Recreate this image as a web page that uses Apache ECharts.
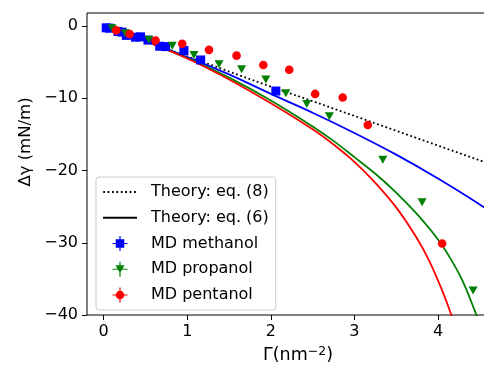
<!DOCTYPE html>
<html>
<head>
<meta charset="utf-8">
<script src="https://cdn.jsdelivr.net/npm/echarts@6/dist/echarts.min.js"></script>
<style>
  html, body { margin: 0; padding: 0; background: #fff; }
  #chart { width: 484px; height: 366px; }
</style>
</head>
<body>
<div id="chart"></div>
<script>
// MD data, [Gamma (nm^-2), delta gamma (mN/m)]
const methanol = [
  [0.03, -0.25], [0.07, -0.3], [0.17, -0.75], [0.22, -0.85], [0.27, -1.3], [0.38, -1.55],
  [0.44, -1.5], [0.53, -1.95], [0.67, -2.8], [0.74, -2.85], [0.96, -3.4], [1.16, -4.7], [2.06, -9.0],
];
const propanol = [
  [0.1, -0.3], [0.26, -1.0], [0.54, -1.9], [0.82, -2.75], [1.08, -4.0], [1.38, -5.3], [1.65, -6.0],
  [1.94, -7.4], [2.18, -9.3], [2.43, -10.8], [2.7, -12.5], [3.34, -18.5], [3.81, -24.4], [4.42, -36.6],
];
const pentanol = [
  [0.15, -0.6], [0.31, -1.1], [0.62, -2.0], [0.94, -2.45], [1.26, -3.3], [1.59, -4.1], [1.91, -5.4],
  [2.22, -6.05], [2.53, -9.4], [2.86, -9.9], [3.16, -13.7], [4.05, -30.1],
];

// theory curves
const theoryEq8 = [
  [0, 0], [0.5, -2.1], [1, -4.2], [1.5, -6.3], [2, -8.4], [2.5, -10.4], [3, -12.45],
  [3.5, -14.5], [4, -16.55], [4.55, -18.8], [4.9, -20.2],
];
const eq6Methanol = [
  [0, 0], [0.5, -2.1], [1, -4.3], [1.5, -6.7], [2, -9.4], [2.5, -12.0], [3, -14.8],
  [3.5, -17.8], [4, -21.1], [4.5, -24.7], [4.9, -27.9],
];
const eq6Propanol = [
  [0, 0], [0.5, -2.1], [1, -4.45], [1.5, -7.15], [2, -10.3], [2.5, -13.9], [2.75, -15.9],
  [3, -18.15], [3.25, -20.45], [3.5, -23.05], [3.75, -26.05], [4, -29.55], [4.15, -32.2],
  [4.3, -35.4], [4.46, -40], [4.6, -44.6],
];
const eq6Pentanol = [
  [0, 0], [0.5, -2.1], [1, -4.5], [1.5, -7.4], [2, -10.7], [2.5, -14.3], [2.75, -16.4],
  [3, -18.8], [3.25, -21.7], [3.5, -25.1], [3.75, -29.4], [3.9, -32.6], [4.05, -36.6],
  [4.16, -40], [4.3, -45],
];

const xTicks = [0, 1, 2, 3, 4];
const yTicks = [0, -10, -20, -30, -40];

const FONT = 'DejaVu Sans';

// legend icons, all in a 34x15 box (tiny corner dots keep the box size)
const corners = 'M0 0h0.01v0.01h-0.01z M33.99 14.99h0.01v0.01h-0.01z ';
const bars = 'M9.5 6.9h15v1.2h-15z M16.4 0h1.2v15h-1.2z ';
const iconSquare = 'path://' + corners + bars + 'M12.75 3.25h8.5v8.5h-8.5z';
const iconTriangle = 'path://' + corners + bars + 'M12.5 3.5h9l-4.5 8z';
const iconCircle = 'path://' + corners + bars + 'M12.7 7.5a4.3 4.3 0 1 1 8.6 0a4.3 4.3 0 1 1 -8.6 0z';
const iconSolid = 'path://' + corners + 'M0 6.6h34v1.8h-34z';
let dots = '';
for (let x = 0.2; x < 33; x += 4.4) dots += `M${x.toFixed(2)} 6.6h1.8v1.8h-1.8z `;
const iconDotted = 'path://' + corners + dots;

const chart = echarts.init(document.getElementById('chart'));
chart.setOption({
  animation: false,
  textStyle: { fontFamily: FONT },
  grid: {
    left: 87, top: 13, height: 302, width: 422, outerBoundsMode: 'none', containLabel: false,
    show: true, borderColor: '#000', borderWidth: 1,
  },
  legend: {
    left: 96, top: 177, orient: 'vertical',
    padding: [7, 7, 7, 7],
    itemWidth: 34, itemHeight: 15, itemGap: 9.75,
    selectedMode: false,
    backgroundColor: 'rgba(255,255,255,0.8)', borderColor: '#cccccc', borderWidth: 1, borderRadius: 3,
    textStyle: { fontFamily: FONT, fontSize: 16, color: '#000', lineHeight: 15, padding: [0, 0, 0, 9] },
    data: [
      { name: 'Theory: eq. (8)', icon: iconDotted },
      { name: 'Theory: eq. (6)', icon: iconSolid },
      { name: 'MD methanol', icon: iconSquare },
      { name: 'MD propanol', icon: iconTriangle },
      { name: 'MD pentanol', icon: iconCircle },
    ],
  },
  xAxis: {
    type: 'value', min: -0.2, max: 4.85,
    name: 'Γ(nm{sup|−2})', nameLocation: 'middle', nameGap: 25,
    nameTextStyle: {
      fontFamily: FONT, fontSize: 17.5, color: '#000',
      rich: { sup: { fontFamily: FONT, fontSize: 12.5, color: '#000', padding: [0, 0, 9, 0] } },
    },
    splitLine: { show: false },
    axisLine: { show: false, onZero: false },
    axisTick: { show: true, length: 5, lineStyle: { color: '#000', width: 1 }, customValues: xTicks },
    axisLabel: { fontFamily: FONT, fontSize: 16, color: '#000', margin: 9, customValues: xTicks },
  },
  yAxis: {
    type: 'value', min: -40, max: 1.8,
    splitLine: { show: false },
    axisLine: { show: false, onZero: false },
    axisTick: { show: true, length: 5, lineStyle: { color: '#000', width: 1 }, customValues: yTicks },
    axisLabel: {
      fontFamily: FONT, fontSize: 16, color: '#000', margin: 9, customValues: yTicks,
      formatter: v => String(v).replace('-', '\u2212'),
    },
  },
  graphic: [{
    type: 'text', x: 26, y: 142, rotation: Math.PI / 2,
    style: { text: 'Δγ (mN/m)', font: '16.5px "DejaVu Sans"', fill: '#000', align: 'center', verticalAlign: 'middle' },
  }],
  series: [
    { name: 'Theory: eq. (8)', type: 'line', data: theoryEq8, symbol: 'none', color: '#000',
      lineStyle: { color: '#000', width: 1.8, type: [1.8, 2.6] }, z: 2 },
    { name: 'Theory: eq. (6)', type: 'line', data: [], symbol: 'none', color: '#000',
      lineStyle: { color: '#000', width: 1.8 } },
    { name: 'eq6 methanol', type: 'line', data: eq6Methanol, symbol: 'none', smooth: 0.3,
      lineStyle: { color: '#0000ff', width: 1.8 }, z: 2 },
    { name: 'eq6 propanol', type: 'line', data: eq6Propanol, symbol: 'none', smooth: 0.3,
      lineStyle: { color: '#008000', width: 1.8 }, z: 2 },
    { name: 'eq6 pentanol', type: 'line', data: eq6Pentanol, symbol: 'none', smooth: 0.3,
      lineStyle: { color: '#ff0000', width: 1.8 }, z: 2 },
    { name: 'MD methanol', type: 'scatter', data: methanol, symbol: 'rect', symbolSize: 9,
      color: '#0000ff', itemStyle: { color: '#0000ff', opacity: 1 }, z: 3 },
    { name: 'MD propanol', type: 'scatter', data: propanol, symbol: 'triangle', symbolRotate: 180,
      symbolSize: [9, 8], color: '#008000', itemStyle: { color: '#008000', opacity: 1 }, z: 4 },
    { name: 'MD pentanol', type: 'scatter', data: pentanol, symbol: 'circle', symbolSize: 8.6,
      color: '#ff0000', itemStyle: { color: '#ff0000', opacity: 1 }, z: 5 },
  ],
});
</script>
</body>
</html>
